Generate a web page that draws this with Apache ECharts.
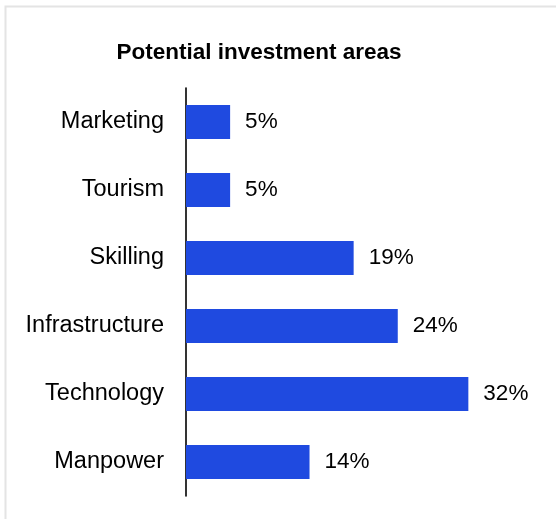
<!DOCTYPE html>
<html>
<head>
<meta charset="utf-8">
<style>
  html, body { margin: 0; padding: 0; background: #ffffff; }
  #chart { width: 556px; height: 519px; }
</style>
<script src="https://cdn.jsdelivr.net/npm/echarts@6/dist/echarts.min.js"></script>
</head>
<body>
<div id="chart"></div>
<script>
// Share of respondents naming each area (percent)
const categories = ['Marketing', 'Tourism', 'Skilling', 'Infrastructure', 'Technology', 'Manpower'];
const shares = [5, 5, 19, 24, 32, 14];
const titleText = 'Potential investment areas';

const FONT = '"Liberation Sans", Arial, sans-serif';
const chart = echarts.init(document.getElementById('chart'), null, { renderer: 'canvas' });

chart.setOption({
  backgroundColor: '#ffffff',
  animation: false,
  graphic: [{
    // card outline
    type: 'rect',
    silent: true,
    shape: { x: 5.5, y: 6.5, width: 700, height: 700 },
    style: { fill: 'none', stroke: '#e4e4e4', lineWidth: 2 }
  }],
  title: {
    text: titleText,
    left: 259,
    top: 41,
    padding: 0,
    textAlign: 'center',
    textStyle: { fontFamily: FONT, fontSize: 22.5, fontWeight: 'bold', color: '#000000' }
  },
  grid: { left: 186, top: 88, width: 300, height: 408, containLabel: false },
  xAxis: {
    type: 'value',
    min: 0,
    max: 34,
    show: false,
    splitLine: { show: false }
  },
  yAxis: {
    type: 'category',
    data: categories,
    inverse: true,
    axisLine: { show: true, lineStyle: { color: '#000000', width: 1.6 } },
    axisTick: { show: false },
    axisLabel: { margin: 22, fontFamily: FONT, fontSize: 23.5, color: '#000000' }
  },
  series: [{
    type: 'bar',
    data: shares,
    barWidth: 34,
    itemStyle: { color: '#1f4ae0' },
    label: {
      show: true,
      position: 'right',
      distance: 15,
      formatter: '{c}%',
      fontFamily: FONT,
      fontSize: 22.5,
      color: '#000000'
    }
  }]
});
</script>
</body>
</html>
